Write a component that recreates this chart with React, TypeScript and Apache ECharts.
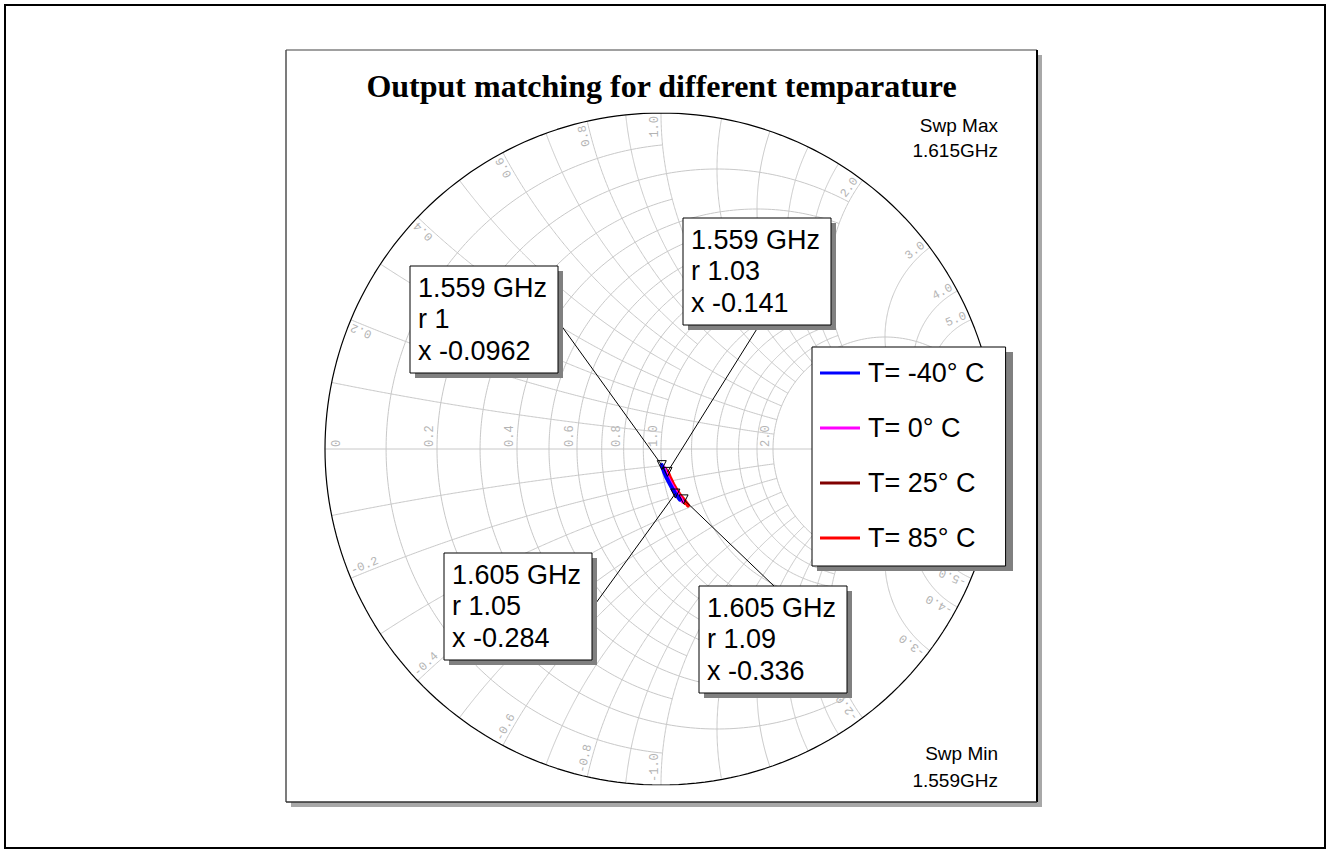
import React, { useEffect, useRef } from "react";
import * as echarts from "echarts";

// ---------------- data ----------------
const FREQ_GHZ = [1.559, 1.569, 1.579, 1.589, 1.599, 1.605, 1.615];
const TEMP_NAMES = ["T= -40° C", "T= 0° C", "T= 25° C", "T= 85° C"];
const TEMP_COLORS = ["#0000ff", "#ff00ff", "#800000", "#ff0000"];

const R_TM40 = [1.0, 1.008, 1.018, 1.03, 1.042, 1.05, 1.066];
const X_TM40 = [-0.0962, -0.135, -0.175, -0.215, -0.258, -0.284, -0.33];
const R_T0 = [1.01, 1.02, 1.03, 1.043, 1.056, 1.065, 1.08];
const X_T0 = [-0.112, -0.152, -0.193, -0.235, -0.277, -0.301, -0.347];
const R_T25 = [1.02, 1.03, 1.04, 1.053, 1.067, 1.077, 1.093];
const X_T25 = [-0.125, -0.166, -0.207, -0.25, -0.293, -0.318, -0.362];
const R_T85 = [1.03, 1.04, 1.051, 1.064, 1.078, 1.09, 1.105];
const X_T85 = [-0.141, -0.181, -0.223, -0.267, -0.31, -0.336, -0.385];

const MARKER_FREQ = ["1.559 GHz", "1.559 GHz", "1.605 GHz", "1.605 GHz"];
const MARKER_R = [1, 1.03, 1.05, 1.09];
const MARKER_X = [-0.0962, -0.141, -0.284, -0.336];

const TITLE = "Output matching for different temparature";
const SWEEP_MAX = "1.615GHz";
const SWEEP_MIN = "1.559GHz";

// Smith grid values
const R_FINE = [0.1, 0.3, 0.5, 0.7, 0.9];
const R_MEDIUM = [0.2, 0.4, 0.6, 0.8, 1.0];
const R_COARSE = [1.2, 1.4, 1.6, 1.8];
const R_MAJOR = [2, 3, 4, 5];
const X_FINE = [0.1, 0.3, 0.5, 0.7, 0.9];
const X_MEDIUM = [0.2, 0.4, 0.6, 0.8, 1.0];
const X_COARSE = [1.2, 1.4, 1.6, 1.8];
const X_MAJOR = [2, 3, 4, 5];
const R_LABELS = [0, 0.2, 0.4, 0.6, 0.8, 1.0, 2.0, 3.0, 4.0, 5.0];
const X_LABELS = [0.2, 0.4, 0.6, 0.8, 1.0, 2.0, 3.0, 4.0, 5.0];

// ---------------- helpers ----------------
function gamma(r: number, x: number): number[] {
  const den = (r + 1) * (r + 1) + x * x;
  return [(r * r - 1 + x * x) / den, (2 * x) / den];
}

function rCurve(r: number, xLim: number): number[][] {
  const a = 1 + r;
  const uMax = isFinite(xLim) ? Math.atan(xLim / a) : Math.PI / 2;
  const n = 240;
  const pts: number[][] = [];
  for (let i = 0; i <= n; i++) {
    const u = -uMax + (2 * uMax * i) / n;
    const x = Math.abs(u) >= Math.PI / 2 - 1e-12 ? Math.sign(u) * 1e9 : a * Math.tan(u);
    pts.push(gamma(r, x));
  }
  return pts;
}

function xCurve(x: number, rLim: number): number[][] {
  const v0 = Math.atan(x);
  const v1 = isFinite(rLim) ? Math.atan(x / (1 + rLim)) : 0;
  const n = 240;
  const pts: number[][] = [];
  for (let i = 0; i <= n; i++) {
    const v = v0 + ((v1 - v0) * i) / n;
    const r = Math.abs(v) < 1e-12 ? 1e9 : x / Math.tan(v) - 1;
    pts.push(gamma(Math.max(r, 0), x));
  }
  return pts;
}

const GRID_COLOR = "#c8c8c8";
const LABEL_COLOR = "#b4b4b4";

function gridSeries(data: number[][], color = GRID_COLOR, width = 1, z = 1) {
  return {
    type: "line",
    data,
    symbol: "none",
    silent: true,
    lineStyle: { color, width },
    z,
  };
}

export default function App() {
  const ref = useRef<HTMLDivElement>(null);

  useEffect(() => {
    const el = ref.current!;
    const chart = echarts.init(el, null, { renderer: "svg" });

    const series: any[] = [];
    R_FINE.forEach((r) => series.push(gridSeries(rCurve(r, 1))));
    R_MEDIUM.forEach((r) => series.push(gridSeries(rCurve(r, 2))));
    R_COARSE.forEach((r) => series.push(gridSeries(rCurve(r, 2))));
    R_MAJOR.forEach((r) => series.push(gridSeries(rCurve(r, Infinity))));
    [1, -1].forEach((s) => {
      X_FINE.forEach((x) => series.push(gridSeries(xCurve(s * x, 1))));
      X_MEDIUM.forEach((x) => series.push(gridSeries(xCurve(s * x, 2))));
      X_COARSE.forEach((x) => series.push(gridSeries(xCurve(s * x, 2))));
      X_MAJOR.forEach((x) => series.push(gridSeries(xCurve(s * x, Infinity))));
    });
    series.push(gridSeries([[-1, 0], [1, 0]]));
    series.push(gridSeries(rCurve(0, Infinity), "#000000", 1.2, 3));

    const tracesR = [R_TM40, R_T0, R_T25, R_T85];
    const tracesX = [X_TM40, X_T0, X_T25, X_T85];
    const drawOrder = [2, 3, 1, 0];
    drawOrder.forEach((k, idx) => {
      series.push({
        type: "line",
        name: TEMP_NAMES[k],
        data: FREQ_GHZ.map((_, i) => gamma(tracesR[k][i], tracesX[k][i])),
        symbol: "none",
        color: TEMP_COLORS[k],
        lineStyle: { color: TEMP_COLORS[k], width: 4, cap: "round", join: "round" },
        z: 4 + idx * 0.1,
      });
    });
    series.push({
      type: "scatter",
      data: MARKER_R.map((r, i) => gamma(r, MARKER_X[i])),
      symbol: "triangle",
      symbolRotate: 180,
      symbolSize: 9,
      itemStyle: { color: "rgba(0,0,0,0)", borderColor: "#000000", borderWidth: 1, opacity: 1 },
      z: 6,
      silent: true,
    });

    chart.setOption({
      animation: false,
      grid: { left: 325, top: 113, width: 672, height: 672 },
      xAxis: { type: "value", min: -1, max: 1, show: false },
      yAxis: { type: "value", min: -1, max: 1, show: false },
      legend: {
        data: TEMP_NAMES,
        orient: "vertical",
        left: 812,
        top: 347,
        padding: [11, 21, 13, 8],
        itemGap: 25,
        itemWidth: 40,
        itemHeight: 3,
        icon: "rect",
        backgroundColor: "#ffffff",
        borderColor: "#000000",
        borderWidth: 1,
        selectedMode: false,
        textStyle: {
          fontFamily: "Liberation Sans",
          fontSize: 27,
          lineHeight: 30,
          color: "#000",
          padding: [0, 0, 0, 3],
        },
        z: 8,
      },
      series,
    });

    const toPx = (g: number[]) => chart.convertToPixel({ gridIndex: 0 }, g) as number[];

    const g: any[] = [];
    // outer frame and panel
    g.push({ type: "rect", shape: { x: 5, y: 5, width: 1320, height: 843 }, style: { fill: "none", stroke: "#000", lineWidth: 2 }, z: 0, silent: true });
    g.push({ type: "rect", shape: { x: 291, y: 55, width: 751, height: 752 }, style: { fill: "#a8a8a8" }, z: 0, silent: true });
    g.push({ type: "rect", shape: { x: 286, y: 50, width: 751, height: 752 }, style: { fill: "#ffffff" }, z: 0, silent: true });
    g.push({ type: "line", shape: { x1: 286, y1: 50, x2: 1037, y2: 50 }, style: { stroke: "#808080", lineWidth: 1.5 }, z: 0, silent: true });
    g.push({ type: "line", shape: { x1: 286, y1: 50, x2: 286, y2: 802 }, style: { stroke: "#505050", lineWidth: 1.5 }, z: 0, silent: true });
    g.push({ type: "line", shape: { x1: 1037, y1: 50, x2: 1037, y2: 802 }, style: { stroke: "#000000", lineWidth: 2 }, z: 0, silent: true });
    g.push({ type: "line", shape: { x1: 286, y1: 802, x2: 1037, y2: 802 }, style: { stroke: "#303030", lineWidth: 1.5 }, z: 0, silent: true });

    // title and sweep texts
    g.push({ type: "text", x: 661.5, y: 86, style: { text: TITLE, fontFamily: "Liberation Serif", fontWeight: "bold", fontSize: 32, fill: "#000", align: "center", textAlign: "center", verticalAlign: "middle", textVerticalAlign: "middle" }, z: 1 });
    const sweep = [["Swp Max", 125], [SWEEP_MAX, 150], ["Swp Min", 753], [SWEEP_MIN, 780]];
    sweep.forEach(([t, y]) => {
      g.push({ type: "text", x: 998, y, style: { text: t, fontFamily: "Liberation Sans", fontSize: 19, fill: "#000", align: "right", textAlign: "right", verticalAlign: "middle", textVerticalAlign: "middle" }, z: 1 });
    });

    // resistance labels
    R_LABELS.forEach((r) => {
      const p = toPx([(r - 1) / (r + 1), 0]);
      const x = r === 0 ? p[0] + 18 : p[0] - 1;
      g.push({
        type: "text", x, y: p[1] - 2, rotation: Math.PI / 2,
        style: { text: r === 0 ? "0" : r.toFixed(1), fontFamily: "Liberation Mono", fontSize: 12, fill: LABEL_COLOR, align: "left", textAlign: "left", verticalAlign: "bottom", textVerticalAlign: "bottom" },
        z: 1, silent: true,
      });
    });
    // reactance labels
    [1, -1].forEach((s) => {
      X_LABELS.forEach((xv) => {
        const x = s * xv;
        const gm = gamma(0, x);
        const th = Math.atan2(gm[1], gm[0]);
        const p = toPx(gm);
        const ax = p[0] - 3 * Math.cos(th);
        const ay = p[1] + 3 * Math.sin(th);
        g.push({
          type: "text", x: ax, y: ay, rotation: s > 0 ? th : th + Math.PI,
          style: { text: (s > 0 ? "" : "-") + xv.toFixed(1), fontFamily: "Liberation Mono", fontSize: 12, fill: LABEL_COLOR, align: s > 0 ? "right" : "left", textAlign: s > 0 ? "right" : "left", verticalAlign: "bottom", textVerticalAlign: "bottom" },
          z: 1, silent: true,
        });
      });
    });

    // legend shadow
    g.push({ type: "rect", shape: { x: 817, y: 352, width: 196, height: 219 }, style: { fill: "#808080" }, z: 7, silent: true });

    // marker boxes
    const boxes = [
      { x: 410, y: 266, inner: [540, 296] },
      { x: 683, y: 218, inner: [775, 300] },
      { x: 444, y: 553, inner: [580, 625] },
      { x: 699, y: 586, inner: [799, 610] },
    ];
    boxes.forEach((b, i) => {
      const m = toPx(gamma(MARKER_R[i], MARKER_X[i]));
      g.push({ type: "line", shape: { x1: m[0], y1: m[1], x2: b.inner[0], y2: b.inner[1] }, style: { stroke: "#000", lineWidth: 1 }, z: 9, silent: true });
      g.push({ type: "rect", shape: { x: b.x + 5, y: b.y + 5, width: 148, height: 107 }, style: { fill: "#808080" }, z: 10, silent: true });
      g.push({ type: "rect", shape: { x: b.x, y: b.y, width: 148, height: 107 }, style: { fill: "#ffffff", stroke: "#000", lineWidth: 1 }, z: 11, silent: true });
      const lines = [MARKER_FREQ[i], "r " + String(MARKER_R[i]), "x " + String(MARKER_X[i])];
      lines.forEach((t, j) => {
        g.push({ type: "text", x: b.x + 8, y: b.y + 31 + 31.5 * j - 9.5, style: { text: t, fontFamily: "Liberation Sans", fontSize: 27, fill: "#000", align: "left", textAlign: "left", verticalAlign: "middle", textVerticalAlign: "middle" }, z: 12, silent: true });
      });
    });

    chart.setOption({ graphic: { elements: g } });

    return () => chart.dispose();
  }, []);

  return <div ref={ref} style={{ position: "absolute", left: 0, top: 0, width: 1330, height: 853, background: "#fff" }} />;
}
